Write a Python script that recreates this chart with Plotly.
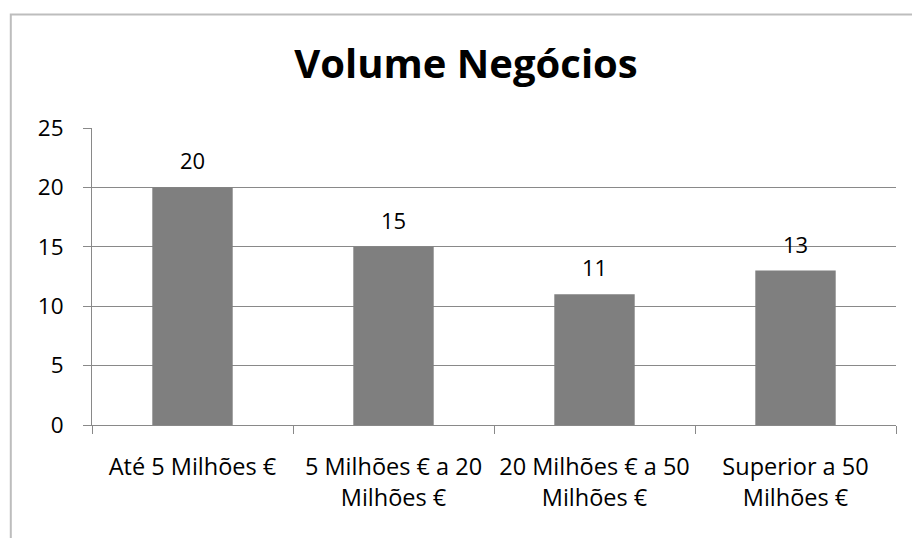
import plotly.graph_objects as go

# Categories and values
categories = [
    "Até 5 Milhões €",
    "5 Milhões € a 20<br>Milhões €",
    "20 Milhões € a 50<br>Milhões €",
    "Superior a 50<br>Milhões €",
]
values = [20, 15, 11, 13]
y_ticks = [0, 5, 10, 15, 20, 25]

FONT = "Open Sans, Carlito, Calibri, sans-serif"
GRID = "#898989"

fig = go.Figure(
    go.Bar(
        x=categories,
        y=values,
        marker=dict(color="#7f7f7f", line=dict(width=0)),
        width=0.4,
        hoverinfo="skip",
    )
)

# value labels above each bar
for c, v in zip(categories, values):
    fig.add_annotation(
        x=c, y=v, text=str(v), showarrow=False,
        yanchor="bottom", yshift=10,
        font=dict(family=FONT, size=22, color="#000000"),
    )

# outer chart frame
fig.add_shape(
    type="rect", xref="paper", yref="paper",
    x0=-0.101, x1=1.2, y0=-0.6, y1=1.382,
    line=dict(color="#bdbdbd", width=2), layer="below",
)

fig.update_layout(
    width=912, height=538,
    margin=dict(l=92, r=16, t=128, b=113),
    paper_bgcolor="white", plot_bgcolor="white",
    showlegend=False,
    title=dict(
        text="<b>Volume Negócios</b>",
        x=466 / 912, xanchor="center", xref="container",
        y=1 - 64 / 538, yref="container", yanchor="middle",
        font=dict(family=FONT, size=40, color="#000000"),
    ),
    font=dict(family=FONT, size=22, color="#000000"),
)

fig.update_xaxes(
    type="category",
    tickson="boundaries",
    ticks="outside", ticklen=8, tickcolor=GRID, tickwidth=1,
    showline=True, linecolor=GRID, linewidth=1,
    showgrid=False,
    ticklabelstandoff=21,
    tickfont=dict(family=FONT, size=23.5, color="#000000"),
    fixedrange=True,
)
fig.update_yaxes(
    range=[0, 25], tickvals=y_ticks,
    ticks="outside", ticklen=8, tickcolor=GRID, tickwidth=1,
    showline=True, linecolor=GRID, linewidth=1,
    showgrid=True, gridcolor=GRID, gridwidth=1,
    zeroline=False,
    ticklabelstandoff=15,
    tickfont=dict(family=FONT, size=22.5, color="#000000"),
    fixedrange=True,
)

fig.write_html("out.html", config={"displayModeBar": False})
